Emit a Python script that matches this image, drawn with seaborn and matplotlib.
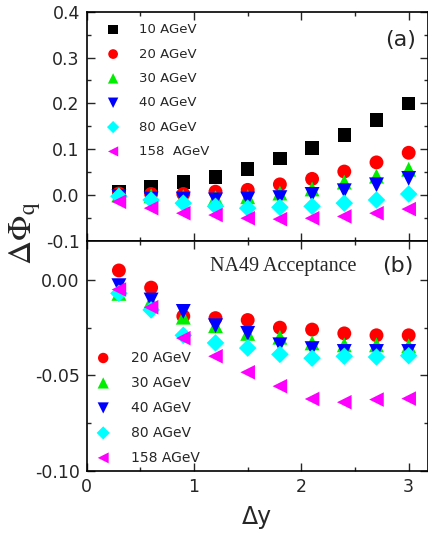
import numpy as np
import pandas as pd
import seaborn as sns
import matplotlib.pyplot as plt
from matplotlib.ticker import MultipleLocator, FormatStrFormatter

# rapidity window
dy = [0.3, 0.6, 0.9, 1.2, 1.5, 1.8, 2.1, 2.4, 2.7, 3.0]

# (a) full acceptance
top_10 = [0.007, 0.017, 0.028, 0.039, 0.057, 0.079, 0.103, 0.131, 0.164, 0.200]
top_20 = [0.003, 0.002, 0.002, 0.007, 0.011, 0.023, 0.035, 0.051, 0.071, 0.092]
top_30 = [0.000, -0.002, -0.004, -0.006, -0.004, 0.004, 0.013, 0.028, 0.041, 0.056]
top_40 = [-0.004, -0.009, -0.009, -0.011, -0.009, -0.006, 0.001, 0.009, 0.022, 0.036]
top_80 = [-0.003, -0.011, -0.018, -0.025, -0.029, -0.027, -0.025, -0.018, -0.011, 0.002]
top_158 = [-0.015, -0.029, -0.040, -0.044, -0.051, -0.053, -0.051, -0.047, -0.040, -0.031]

# (b) NA49 acceptance
bot_20 = [0.005, -0.004, -0.019, -0.020, -0.021, -0.025, -0.026, -0.028, -0.029, -0.029]
bot_30 = [-0.007, -0.011, -0.0195, -0.024, -0.028, -0.030, -0.033, -0.034, -0.034, -0.0345]
bot_40 = [-0.003, -0.0105, -0.0165, -0.024, -0.028, -0.034, -0.036, -0.0375, -0.0375, -0.0375]
bot_80 = [-0.007, -0.0157, -0.029, -0.033, -0.0357, -0.039, -0.041, -0.040, -0.0404, -0.0397]
bot_158 = [-0.005, -0.0143, -0.0305, -0.040, -0.0484, -0.0557, -0.0624, -0.0641, -0.0627, -0.0622]

top_labels = ['10 AGeV', '20 AGeV', '30 AGeV', '40 AGeV', '80 AGeV', '158  AGeV']
bot_labels = ['20 AGeV', '30 AGeV', '40 AGeV', '80 AGeV', '158 AGeV']

colors = {'10': 'black', '20': '#ff0000', '30': '#00ee00', '40': '#0000ff',
          '80': '#00ffff', '158': '#ff00ff'}
markers = {'10': 's', '20': 'o', '30': '^', '40': 'v', '80': 'D', '158': '<'}
sizes = {'10': 95, '20': 100, '30': 115, '40': 115, '80': 80, '158': 110}

sns.set_style("ticks")
plt.rcParams['font.family'] = ['DejaVu Sans']
plt.rcParams['mathtext.fontset'] = 'stix'

fig = plt.figure(figsize=(4.28, 5.33), dpi=100)
ax1 = fig.add_axes([0.2026, 0.5484, 0.7974, 0.4296])
ax2 = fig.add_axes([0.2026, 0.1169, 0.7974, 0.4315])

top_series = [top_10, top_20, top_30, top_40, top_80, top_158]
bot_series = [bot_20, bot_30, bot_40, bot_80, bot_158]

for vals, lab in zip(top_series, top_labels):
    key = lab.split()[0]
    sns.scatterplot(x=dy, y=vals, ax=ax1, color=colors[key], marker=markers[key],
                    s=sizes[key], edgecolor='none', linewidth=0, label=lab, zorder=3)

for vals, lab in zip(bot_series, bot_labels):
    key = lab.split()[0]
    sns.scatterplot(x=dy, y=vals, ax=ax2, color=colors[key], marker=markers[key],
                    s=sizes[key], edgecolor='none', linewidth=0, label=lab, zorder=3)

ax1.set_xlim(0, 3.18)
ax2.set_xlim(0, 3.18)
ax1.set_ylim(-0.1, 0.4)
ax2.set_ylim(-0.10, 0.0206)

for ax in (ax1, ax2):
    ax.xaxis.set_major_locator(MultipleLocator(1))
    ax.xaxis.set_minor_locator(MultipleLocator(0.5))
    ax.tick_params(which='both', direction='in', top=True, right=True,
                   labelsize=12.5, width=1, pad=5)
    ax.tick_params(which='major', length=6)
    ax.tick_params(which='minor', length=3)
    for sp in ax.spines.values():
        sp.set_linewidth(1.2)
        sp.set_color('black')
    ax.set_ylabel('')

ax1.yaxis.set_major_locator(MultipleLocator(0.1))
ax1.yaxis.set_minor_locator(MultipleLocator(0.05))
ax1.yaxis.set_major_formatter(FormatStrFormatter('%.1f'))
ax1.tick_params(labelbottom=False)

ax2.yaxis.set_major_locator(MultipleLocator(0.05))
ax2.yaxis.set_minor_locator(MultipleLocator(0.025))
ax2.yaxis.set_major_formatter(FormatStrFormatter('%.2f'))
ax2.set_xlabel('Δy', fontsize=17, labelpad=7)

ax1.legend(loc='upper left', bbox_to_anchor=(0.058, 0.95), frameon=False,
           fontsize=9.5, markerscale=0.7, handlelength=1.0, handletextpad=1.5,
           labelspacing=0.86, borderpad=0, borderaxespad=0)
ax2.legend(loc='upper left', bbox_to_anchor=(0.028, 0.522), frameon=False,
           fontsize=10, markerscale=0.75, handlelength=1.0, handletextpad=1.5,
           labelspacing=0.79, borderpad=0, borderaxespad=0)

ax1.text(0.919, 0.876, '(a)', transform=ax1.transAxes, fontsize=16,
         ha='center', va='center')
ax2.text(0.913, 0.89, '(b)', transform=ax2.transAxes, fontsize=16,
         ha='center', va='center')
ax2.text(0.362, 0.89, 'NA49 Acceptance', transform=ax2.transAxes, fontsize=14.5,
         family='Liberation Serif', ha='left', va='center')

fig.text(0.058, 0.563, r'$\Delta\Phi_{\mathrm{q}}$', rotation=90, fontsize=24,
         ha='center', va='center')

fig.savefig('out.png', dpi=100)
